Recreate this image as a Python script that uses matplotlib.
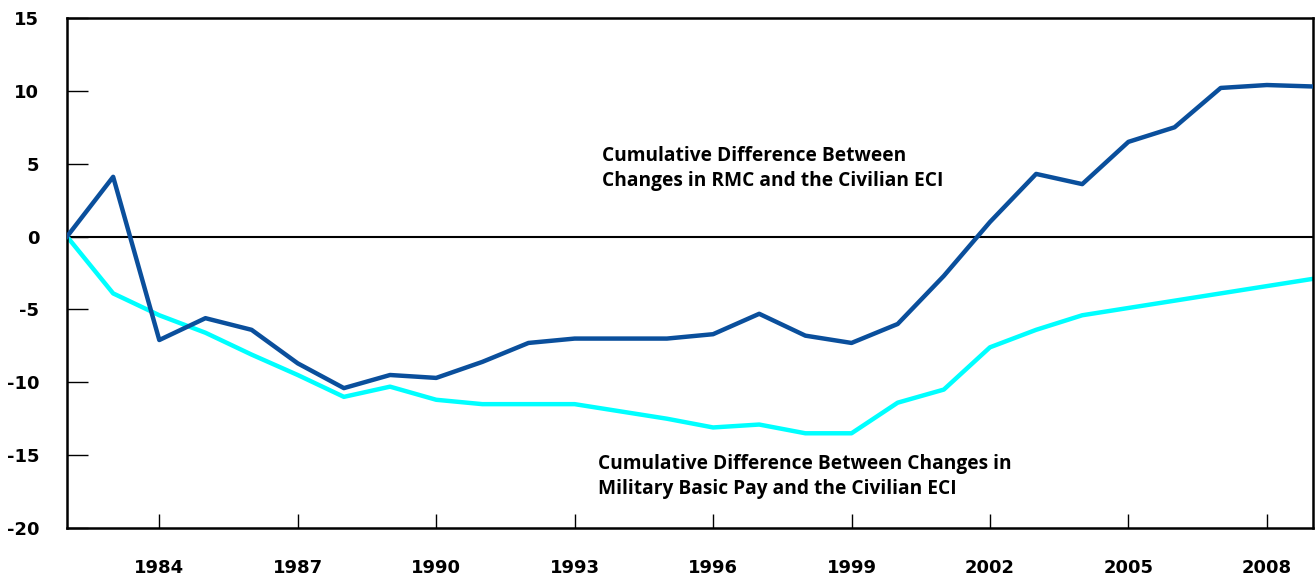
import matplotlib.pyplot as plt
import numpy as np

plt.rcParams['axes.unicode_minus'] = False

years = list(range(1982, 2010))
rmc_diff = [0.0, 4.1, -7.1, -5.6, -6.4, -8.7, -10.4, -9.5, -9.7, -8.6,
            -7.3, -7.0, -7.0, -7.0, -6.7, -5.3, -6.8, -7.3, -6.0, -2.7,
            1.0, 4.3, 3.6, 6.5, 7.5, 10.2, 10.4, 10.3]
basic_pay_diff = [0.0, -3.9, -5.4, -6.6, -8.1, -9.5, -11.0, -10.3, -11.2, -11.5,
                  -11.5, -11.5, -12.0, -12.5, -13.1, -12.9, -13.5, -13.5, -11.4, -10.5,
                  -7.6, -6.4, -5.4, -4.9, -4.4, -3.9, -3.4, -2.9]
xtick_years = [1984, 1987, 1990, 1993, 1996, 1999, 2002, 2005, 2008]
ytick_vals = [-20, -15, -10, -5, 0, 5, 10, 15]

fig = plt.figure(figsize=(13.15, 5.81), dpi=100)
ax = fig.add_axes([67 / 1315, 1 - 528 / 581, (1313 - 67) / 1315, (528 - 18) / 581])

ax.axhline(0, color='black', linewidth=1.5, zorder=1)
ax.plot(years, rmc_diff, color='#0a4f9c', linewidth=3.2, zorder=3)
ax.plot(years, basic_pay_diff, color='#00ffff', linewidth=3.2, zorder=2)

ax.set_xlim(1982, 2009)
ax.set_ylim(-20, 15)
ax.set_xticks(xtick_years)
ax.set_yticks(ytick_vals)

for s in ax.spines.values():
    s.set_linewidth(1.8)

ax.tick_params(axis='x', direction='in', length=10, width=1, pad=22)
ax.tick_params(axis='y', direction='in', length=15, width=1, pad=20)
for lab in ax.get_xticklabels() + ax.get_yticklabels():
    lab.set_fontfamily('DejaVu Sans')
    lab.set_fontweight('heavy')
    lab.set_fontsize(13)

note_font = dict(fontsize=13.8, fontweight='bold', family=['Open Sans', 'DejaVu Sans'],
                 va='top', ha='left', linespacing=1.3)
ax.text(1993.6, 6.2, 'Cumulative Difference Between\nChanges in RMC and the Civilian ECI', **note_font)
ax.text(1993.5, -14.95, 'Cumulative Difference Between Changes in\nMilitary Basic Pay and the Civilian ECI', **note_font)

plt.savefig('out.png', dpi=100)
